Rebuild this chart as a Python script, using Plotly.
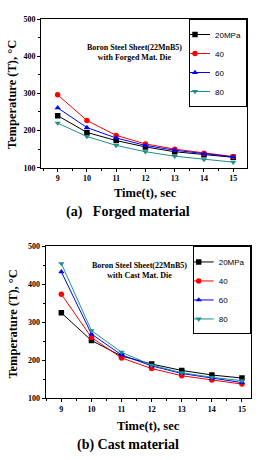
import plotly.graph_objects as go

time_s = [9, 10, 11, 12, 13, 14, 15]
pressures = ["20MPa", "40", "60", "80"]

# (a) Forged material die
forged_20 = [240, 195, 173, 156, 143, 135, 128]
forged_40 = [296, 227, 187, 164, 150, 139, 130]
forged_60 = [261, 208, 180, 160, 147, 137, 129]
forged_80 = [220, 184, 160, 143, 131, 122, 115]

# (b) Cast material die
cast_20 = [325, 252, 211, 190, 173, 161, 153]
cast_40 = [374, 260, 206, 178, 159, 148, 137]
cast_60 = [433, 269, 214, 185, 165, 152, 141]
cast_80 = [455, 278, 221, 187, 167, 155, 146]

colors = ["#000000", "#ff0000", "#0000ff", "#1f8f8a"]
symbols = ["square", "circle", "triangle-up", "triangle-down"]

SERIF = "Liberation Serif"
SANS = "Liberation Sans"

fig = go.Figure()

for i, (name, ys) in enumerate(zip(pressures, [forged_20, forged_40, forged_60, forged_80])):
    fig.add_trace(go.Scatter(
        x=time_s, y=ys, name=name, mode="lines+markers",
        line=dict(color=colors[i], width=1),
        marker=dict(symbol=symbols[i], size=5.5, color=colors[i]),
        xaxis="x", yaxis="y", legend="legend"))

for i, (name, ys) in enumerate(zip(pressures, [cast_20, cast_40, cast_60, cast_80])):
    fig.add_trace(go.Scatter(
        x=time_s, y=ys, name=name, mode="lines+markers",
        line=dict(color=colors[i], width=1),
        marker=dict(symbol=symbols[i], size=5.5, color=colors[i]),
        xaxis="x2", yaxis="y2", legend="legend2"))

W, H = 259, 460

def px_x(p):
    return p / W

def px_y(p):
    return 1 - p / H

tickfont = dict(family=SERIF, size=8, color="black", weight="bold")

def xax(domain, anchor, rng):
    return dict(domain=domain, anchor=anchor, range=rng, dtick=1, tick0=9,
                showline=True, linecolor="black", linewidth=1, mirror=True,
                ticks="outside", ticklen=3, tickcolor="black", tickwidth=1,
                minor=dict(ticks="outside", ticklen=2, dtick=0.5, tickcolor="black"),
                showgrid=False, zeroline=False, tickfont=tickfont)

def yax(domain, anchor):
    return dict(domain=domain, anchor=anchor, range=[100, 500], dtick=100,
                showline=True, linecolor="black", linewidth=1, mirror=True,
                ticks="outside", ticklen=3, tickcolor="black", tickwidth=1,
                minor=dict(ticks="outside", ticklen=2, dtick=50, tickcolor="black"),
                showgrid=False, zeroline=False, tickfont=tickfont)

top_dom_x = [px_x(41), px_x(247)]
top_dom_y = [px_y(167), px_y(15.3)]
bot_dom_x = [px_x(45.7), px_x(250.7)]
bot_dom_y = [px_y(402), px_y(247.3)]

legend_style = dict(font=dict(family=SANS, size=8, color="black"),
                    bgcolor="white", bordercolor="black", borderwidth=1,
                    xanchor="right", yanchor="top", tracegroupgap=0,
                    itemwidth=30, indentation=-15)

ann_font = dict(family=SERIF, size=8, color="black", weight="bold")
title_font = dict(family=SERIF, size=12.5, color="black", weight="bold")
cap_font = dict(family=SERIF, size=14, color="black", weight="bold")

def ann(text, x, y, font, **kw):
    return dict(text=text, x=px_x(x), y=px_y(y), xref="paper", yref="paper",
                xanchor="center", yanchor="middle", showarrow=False, font=font, **kw)

annotations = [
    ann("Boron Steel Sheet(22MnB5)<br>with Forged Mat. Die", 134, 49, ann_font, align="center"),
    ann("Boron Steel Sheet(22MnB5)<br>with Cast Mat. Die", 139, 272, ann_font, align="center"),
    ann("Time(t), sec", 145, 193, title_font),
    ann("Time(t), sec", 148, 430, title_font),
    ann("Temperature (T), °C", 12, 92, title_font, textangle=-90),
    ann("Temperature (T), °C", 13, 326, title_font, textangle=-90),
    ann("(a)   Forged material", 128, 212, cap_font),
    ann("(b) Cast material", 128, 450, cap_font),
]

fig.update_layout(
    width=W, height=H,
    margin=dict(l=0, r=0, t=0, b=0),
    paper_bgcolor="white", plot_bgcolor="white",
    showlegend=True,
    xaxis=xax(top_dom_x, "y", [8.43, 15.47]),
    yaxis=yax(top_dom_y, "x"),
    xaxis2=xax(bot_dom_x, "y2", [8.48, 15.29]),
    yaxis2=yax(bot_dom_y, "x2"),
    legend=dict(x=top_dom_x[1], y=top_dom_y[1], **legend_style),
    legend2=dict(x=bot_dom_x[1], y=bot_dom_y[1], **legend_style),
    annotations=annotations,
)

fig.write_html("out.html")
